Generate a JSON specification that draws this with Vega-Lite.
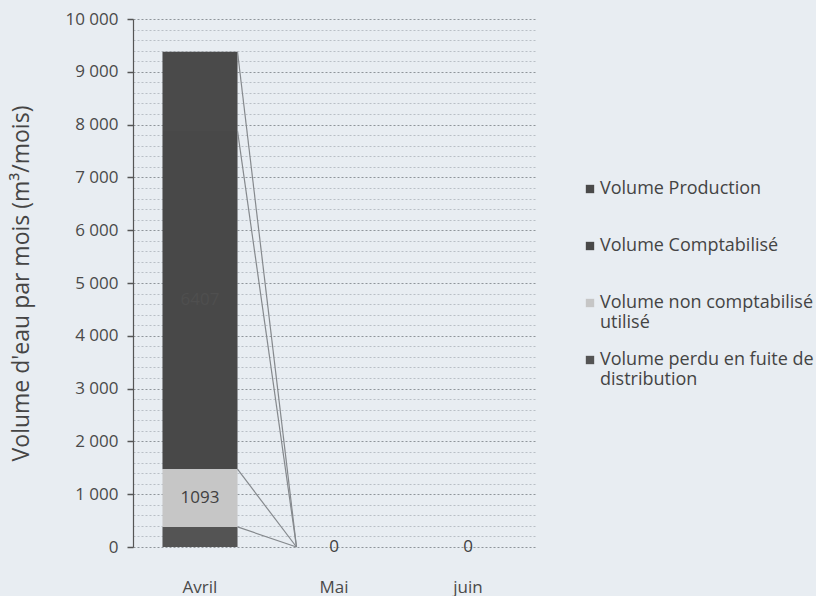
{
  "$schema": "https://vega.github.io/schema/vega-lite/v6.json",
  "autosize": {"type": "none"},
  "padding": {"left": 133, "top": 19, "right": 281, "bottom": 49},
  "width": 402,
  "height": 528,
  "background": "#e8edf2",
  "config": {
    "view": {"stroke": null},
    "font": "Open Sans",
    "text": {"font": "Open Sans"}
  },
  "data": {
    "values": [
      {"mois": "Avril", "mi": 1, "serie": "Volume Production", "ord": 4, "valeur": 1500},
      {"mois": "Avril", "mi": 1, "serie": "Volume Comptabilisé", "ord": 3, "valeur": 6407},
      {"mois": "Avril", "mi": 1, "serie": "Volume non comptabilisé utilisé", "ord": 2, "valeur": 1093},
      {"mois": "Avril", "mi": 1, "serie": "Volume perdu en fuite de distribution", "ord": 1, "valeur": 380},
      {"mois": "Mai", "mi": 2, "serie": "Volume Production", "ord": 4, "valeur": 0},
      {"mois": "Mai", "mi": 2, "serie": "Volume Comptabilisé", "ord": 3, "valeur": 0},
      {"mois": "Mai", "mi": 2, "serie": "Volume non comptabilisé utilisé", "ord": 2, "valeur": 0},
      {"mois": "Mai", "mi": 2, "serie": "Volume perdu en fuite de distribution", "ord": 1, "valeur": 0},
      {"mois": "juin", "mi": 3, "serie": "Volume Production", "ord": 4, "valeur": 0},
      {"mois": "juin", "mi": 3, "serie": "Volume Comptabilisé", "ord": 3, "valeur": 0},
      {"mois": "juin", "mi": 3, "serie": "Volume non comptabilisé utilisé", "ord": 2, "valeur": 0},
      {"mois": "juin", "mi": 3, "serie": "Volume perdu en fuite de distribution", "ord": 1, "valeur": 0}
    ]
  },
  "encoding": {
    "x": {
      "field": "mois",
      "type": "nominal",
      "sort": ["Avril", "Mai", "juin"],
      "scale": {"paddingInner": 0, "paddingOuter": 0},
      "axis": {
        "title": null,
        "labelAngle": 0,
        "domain": false,
        "ticks": false,
        "labelFontSize": 17,
        "labelColor": "#4a4a4a",
        "labelPadding": 32,
        "labelBaseline": "top"
      }
    }
  },
  "layer": [
    {
      "mark": {"type": "bar", "width": {"band": 0.56}},
      "encoding": {
        "y": {
          "field": "valeur",
          "type": "quantitative",
          "stack": "zero",
          "scale": {"domain": [0, 10000], "nice": false},
          "axis": {
            "title": "Volume d'eau par mois (m³/mois)",
            "titleFontSize": 23,
            "titleFontWeight": "normal",
            "titleColor": "#454545",
            "titlePadding": 31,
            "tickCount": 50,
            "labelExpr": "datum.value % 1000 == 0 ? replace(format(datum.value, ',d'), ',', ' ') : ''",
            "labelFontSize": 17,
            "labelColor": "#4a4a4a",
            "labelPadding": 9,
            "domainColor": "#555555",
            "domainWidth": 1.2,
            "tickSize": 6,
            "tickColor": "#555555",
            "tickWidth": 1.5,
            "tickOpacity": {"condition": {"test": "datum.value % 1000 == 0", "value": 1}, "value": 0},
            "grid": true,
            "gridDash": [2, 2],
            "gridColor": {"condition": {"test": "datum.value % 1000 == 0", "value": "#8f959b"}, "value": "#b9bfc6"},
            "gridWidth": 1
          }
        },
        "order": {"field": "ord", "type": "quantitative"},
        "color": {
          "field": "serie",
          "type": "nominal",
          "scale": {
            "domain": ["Volume Production", "Volume Comptabilisé", "Volume non comptabilisé utilisé", "Volume perdu en fuite de distribution"],
            "range": ["#4a4a4a", "#484848", "#c6c6c6", "#545454"]
          },
          "legend": {
            "title": null,
            "orient": "none",
            "legendX": 448,
            "legendY": 161,
            "direction": "vertical",
            "symbolType": "square",
            "symbolSize": 70,
            "symbolStrokeWidth": 0,
            "labelFontSize": 18,
            "labelColor": "#444444",
            "labelLimit": 300,
            "labelOffset": 1,
            "rowPadding": 19,
            "gridAlign": "all",
            "labelExpr": "datum.label == 'Volume non comptabilisé utilisé' ? ['Volume non comptabilisé', 'utilisé'] : datum.label == 'Volume perdu en fuite de distribution' ? ['Volume perdu en fuite de', 'distribution'] : datum.label"
          }
        }
      }
    },
    {
      "transform": [
        {"stack": "valeur", "groupby": ["mois"], "sort": [{"field": "ord"}], "as": ["y0", "y1"]},
        {
          "window": [
            {"op": "lead", "field": "y1", "as": "y1n"},
            {"op": "lead", "field": "mois", "as": "moisn"}
          ],
          "groupby": ["serie"],
          "sort": [{"field": "mi"}]
        },
        {"filter": "datum.moisn != null && (datum.y1 > 0 || datum.y1n > 0)"}
      ],
      "mark": {"type": "rule", "xOffset": 37.5, "x2Offset": -37.5, "color": "#85898d", "strokeWidth": 1.2},
      "encoding": {
        "x2": {"field": "moisn"},
        "y": {"field": "y1", "type": "quantitative"},
        "y2": {"field": "y1n"}
      }
    },
    {
      "transform": [
        {"stack": "valeur", "groupby": ["mois"], "sort": [{"field": "ord"}], "as": ["y0", "y1"]},
        {"calculate": "(datum.y0 + datum.y1) / 2", "as": "mid"},
        {"filter": "datum.ord == 2 || (datum.ord == 3 && datum.valeur > 0)"}
      ],
      "mark": {"type": "text", "fontSize": 17, "baseline": "middle"},
      "encoding": {
        "y": {"field": "mid", "type": "quantitative"},
        "text": {"field": "valeur", "type": "quantitative", "format": "d"},
        "color": {"condition": {"test": "datum.ord == 3", "value": "#4f4f4f"}, "value": "#404040"}
      }
    }
  ]
}
